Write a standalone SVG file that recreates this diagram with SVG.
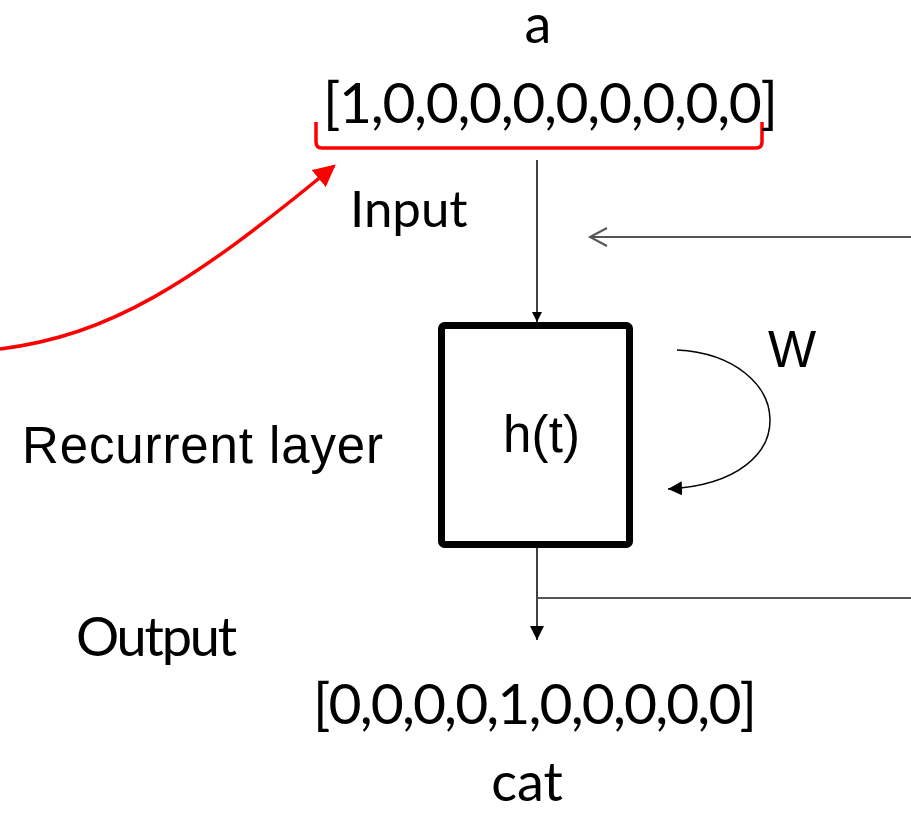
<svg xmlns="http://www.w3.org/2000/svg" width="911" height="815" viewBox="0 0 911 815">
<style>
.c{font-family:Lato,"Open Sans","Noto Sans",sans-serif;font-size:54px;fill:#000}
.v{font-family:Lato,"Open Sans","Noto Sans",sans-serif;font-size:57px;fill:#000}
.a{font-family:"Liberation Sans",Arial,sans-serif;font-size:51px;fill:#000}
.ln{fill:none;stroke:#000;stroke-width:1.5}
.gr{fill:none;stroke:#555;stroke-width:2}
</style>
<defs>
<marker id="ab" viewBox="0 0 10 10" refX="10" refY="5" markerWidth="10" markerHeight="10" markerUnits="userSpaceOnUse" orient="auto"><path d="M0,0 L10,5 L0,10 Z" fill="#000"/></marker>
<marker id="ab2" viewBox="0 0 10 10" refX="10" refY="5" markerWidth="14" markerHeight="14" markerUnits="userSpaceOnUse" orient="auto"><path d="M0,0 L10,5 L0,10 Z" fill="#000"/></marker>
<marker id="ar" viewBox="0 0 10 10" refX="9" refY="5" markerWidth="22" markerHeight="22" markerUnits="userSpaceOnUse" orient="auto"><path d="M0,0 L10,5 L0,10 Z" fill="#f00"/></marker>
</defs>
<g id="connectors">
<path d="M0,349 C110,335 190,285 334,166" fill="none" stroke="#f00" stroke-width="3.5" marker-end="url(#ar)"/>
<path d="M316,122 L316,142 Q316,148 322,148 L756,148 Q762,148 762,142 L762,122" fill="none" stroke="#f00" stroke-width="3.5"/>
<line x1="537" y1="160" x2="537" y2="322" class="ln" marker-end="url(#ab)"/>
<path d="M677,350 C795,356 810,482 668,489" class="ln" marker-end="url(#ab2)"/>
<line x1="911" y1="237" x2="591" y2="237" class="gr"/>
<path d="M607,228 L590,237 L607,246" class="gr"/>
<line x1="537" y1="548" x2="537" y2="640" class="ln" marker-end="url(#ab2)"/>
<line x1="537" y1="598" x2="911" y2="598" class="gr"/>
</g>
<g id="label-a"><text class="c" x="538" y="43" text-anchor="middle">a</text></g>
<g id="input-vector"><text class="v" x="323" y="123" textLength="455">[1,0,0,0,0,0,0,0,0,0]</text></g>
<g id="label-input"><text class="c" x="350" y="227" style="font-size:51px">Input</text></g>
<g id="recurrent-box">
<rect x="441.5" y="325.5" width="188" height="219" rx="3" fill="#fff" stroke="#000" stroke-width="7"/>
<text class="a" x="503" y="452" textLength="77">h(t)</text>
</g>
<g id="label-w"><text class="a" x="768" y="367">W</text></g>
<g id="label-recurrent"><text class="a" x="22" y="463" textLength="361">Recurrent layer</text></g>
<g id="label-output"><text class="c" x="76" y="656" textLength="161">Output</text></g>
<g id="output-vector"><text class="v" x="313" y="724" textLength="444">[0,0,0,0,1,0,0,0,0,0]</text></g>
<g id="label-cat"><text class="c" x="527" y="801" text-anchor="middle">cat</text></g>
</svg>
